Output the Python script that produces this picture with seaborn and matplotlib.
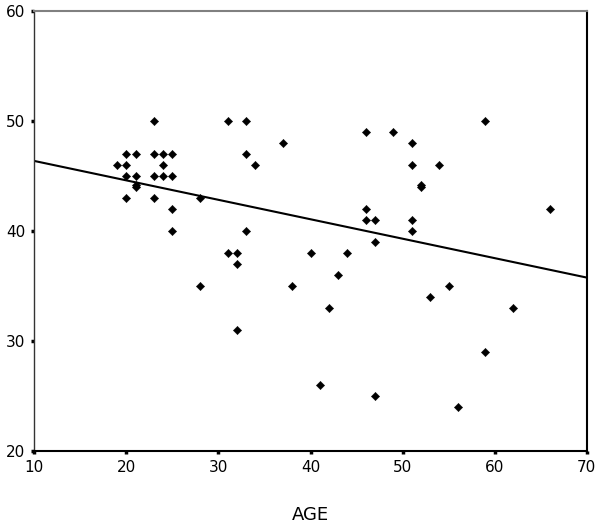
import matplotlib
matplotlib.use("Agg")
import matplotlib.pyplot as plt
import seaborn as sns
import pandas as pd
import numpy as np

age = [19, 20, 21, 20, 20, 21, 21, 21, 20, 23, 23, 23, 23, 24, 24, 24, 25, 25, 25, 25,
       28, 31, 33, 33, 33, 34, 37,
       46, 49, 51, 51, 54, 52, 52, 59, 46, 46, 47, 51, 51, 47, 66,
       31, 32, 32, 28, 38, 32,
       40, 44, 43, 42, 53, 55, 62, 59, 41, 47, 56]
score = [46, 47, 47, 46, 45, 45, 44.2, 44, 43, 50, 47, 45, 43, 47, 46, 45, 47, 45, 42, 40,
         43, 50, 50, 47, 40, 46, 48,
         49, 49, 48, 46, 46, 44.2, 44, 50, 42, 41, 41, 41, 40, 39, 42,
         38, 38, 37, 35, 35, 31,
         38, 38, 36, 33, 34, 35, 33, 29, 26, 25, 24]

x_ticks = [10, 20, 30, 40, 50, 60, 70]
y_ticks = [20, 30, 40, 50, 60]

df = pd.DataFrame({"AGE": age, "SCORE": score})

sns.set_style("white")
plt.rcParams["font.family"] = ["DejaVu Sans"]
plt.rcParams["text.color"] = "black"
plt.rcParams["xtick.color"] = "black"
plt.rcParams["ytick.color"] = "black"
plt.rcParams["axes.labelcolor"] = "black"

fig = plt.figure(figsize=(6.0, 5.24), dpi=100)
ax = fig.add_axes([0.057, 0.139, 0.921, 0.840])
ax.set_xlim(10, 70)
ax.set_ylim(20, 60)

sns.regplot(data=df, x="AGE", y="SCORE", ax=ax, ci=None, truncate=False,
            marker="D", color="black",
            scatter_kws={"s": 18, "linewidths": 0.3, "edgecolors": "black",
                         "color": "black", "alpha": 1},
            line_kws={"color": "black", "linewidth": 1.5})

ax.set_xlim(10, 70)
ax.set_ylim(20, 60)
ax.set_xticks(x_ticks)
ax.set_yticks(y_ticks)
ax.set_xticklabels([str(t) for t in x_ticks], fontsize=11, color="black")
ax.set_yticklabels([str(t) for t in y_ticks], fontsize=11, color="black")
ax.tick_params(axis="both", direction="out", length=2.5, width=2.5, color="black",
               pad=4, bottom=True, left=True)
ax.set_xlabel("AGE", fontsize=13, labelpad=22, color="black")
ax.set_ylabel("")

for side, col, lw in [("top", "#808080", 1.5), ("right", "black", 1.5),
                      ("bottom", "black", 1.5), ("left", "#333333", 1.0)]:
    ax.spines[side].set_visible(True)
    ax.spines[side].set_color(col)
    ax.spines[side].set_linewidth(lw)

fig.savefig("out.png", dpi=100)
